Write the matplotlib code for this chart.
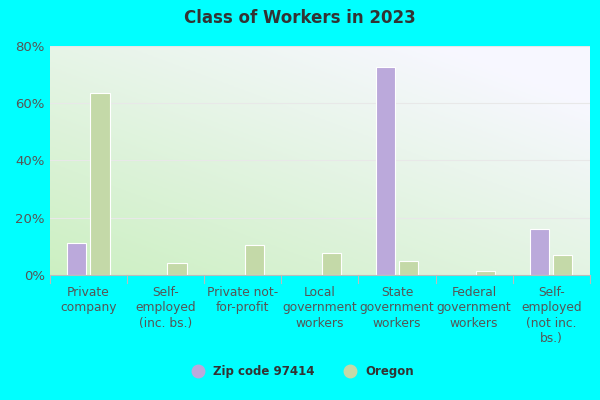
import matplotlib
matplotlib.use("Agg")
import matplotlib.pyplot as plt
from matplotlib.lines import Line2D
import numpy as np

categories = ["Private\ncompany", "Self-\nemployed\n(inc. bs.)", "Private not-\nfor-profit", "Local\ngovernment\nworkers",
              "State\ngovernment\nworkers", "Federal\ngovernment\nworkers", "Self-\nemployed\n(not inc.\nbs.)"]
zip_vals = [11.0, 0, 0, 0, 72.5, 0, 16.0]
oregon_vals = [63.5, 4.0, 10.5, 7.5, 5.0, 1.5, 7.0]
yticks = [0, 20, 40, 60, 80]

fig = plt.figure(figsize=(6, 4), dpi=100, facecolor="#00ffff")
ax = fig.add_axes([0.083, 0.313, 0.900, 0.572])
ax.set_facecolor("none")
yy, xx = np.mgrid[0:1:100j, 0:1:100j]
t = np.clip((xx * 0.7 + yy * 0.8) / 1.3, 0, 1)[..., None]
c0 = np.array([0.80, 0.94, 0.76]); c1 = np.array([0.97, 0.97, 1.0])
g = c0 * (1 - t) + c1 * t
ax.imshow(g, extent=[-0.5, 6.5, 0, 80], origin="lower", aspect="auto", zorder=0)

x = np.arange(len(categories))
w = 0.25
ax.bar(x - 0.15, zip_vals, w, color="#bba9db", edgecolor="white", linewidth=0.8, zorder=2)
ax.bar(x + 0.15, oregon_vals, w, color="#c4d9a8", edgecolor="white", linewidth=0.8, zorder=2)
ax.set_xlim(-0.5, 6.5)
ax.set_ylim(0, 80)
ax.set_yticks(yticks)
ax.set_yticklabels([f"{v}%" for v in yticks], color="#555555", fontsize=9.5)
ax.set_xticks(x)
ax.set_xticklabels(categories, color="#555555", fontsize=8.8, linespacing=1.25)
for v in yticks[1:]:
    ax.axhline(v, color="#e8e8e8", lw=0.8, zorder=1)
for b in np.arange(-0.5, 7, 1):
    ax.plot([b, b], [0, -3], color="#bbbbbb", lw=0.8, clip_on=False)
for s in ["top", "right", "left"]:
    ax.spines[s].set_visible(False)
ax.spines["bottom"].set_color("#bbbbbb")
ax.tick_params(axis="both", length=0)
ax.tick_params(axis="x", pad=8)
fig.text(0.5, 0.955, "Class of Workers in 2023", ha="center", va="center", fontsize=12, fontweight="bold", color="#333333")
handles = [Line2D([], [], marker="o", ls="", ms=9, color="#bba9db"),
           Line2D([], [], marker="o", ls="", ms=9, color="#c4d9a8")]
fig.legend(handles, ["Zip code 97414", "Oregon"], loc="center", bbox_to_anchor=(0.5, 0.07), ncol=2, frameon=False,
           handletextpad=0.3, columnspacing=2.0, prop={"weight": "bold", "size": 8.5}, labelcolor="#333333")
fig.savefig("out.png", dpi=100, facecolor=fig.get_facecolor())
